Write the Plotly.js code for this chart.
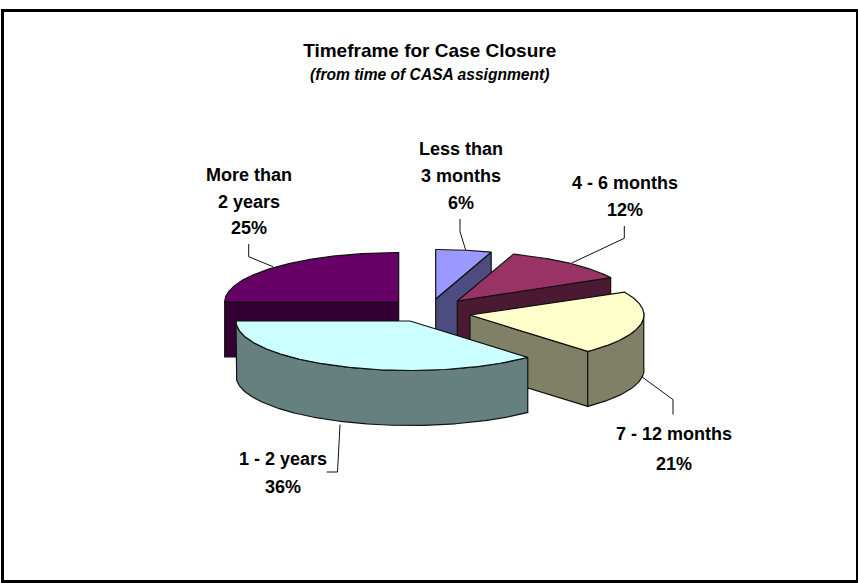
<!DOCTYPE html>
<html><head><meta charset="utf-8">
<script src="https://cdn.plot.ly/plotly-3.0.1.min.js"></script>
<style>html,body{margin:0;padding:0;background:#fff}#c{width:858px;height:583px}</style>
</head><body><div id="c"></div>
<script>
var categories = ['Less than 3 months','4 - 6 months','7 - 12 months','1 - 2 years','More than 2 years'];
var percents = [6,12,21,36,25];
var labelLines = [['Less than','3 months','6%'],['4 - 6 months','12%'],['7 - 12 months','21%'],['1 - 2 years','36%'],['More than','2 years','25%']];
var topColors = ['#9999FF','#993366','#FFFFCC','#CCFFFF','#660066'];
var wallColors = ['#4C4C80','#4C1933','#808066','#668080','#330033'];
var apexX = [435.7,457.3,470,410,398.7];
var apexY = [299,301,315,321,302];
var labelX = [461,625,674,283,249];
var labelY = [[149,176,203],[183,210],[434,464],[459,487],[175,202,228]];
var leaderX = [[460,460,465.7],[624.3,624.3,571.7],[641.7,673,673],[340,337.5,326.8],[248.7,248.7,273]];
var leaderY = [[219,231.7,250],[226,238.3,263],[376.7,399.6,414.6],[424.6,472,472],[244,256.7,266.7]];
var RX = 174, RY = 49.5, DEPTH = 55, ARC_STEPS = 4; // steps per degree
// small perspective correction of the 3D view: [pie angle, degrees subtracted]
var viewWarp = [[0,0],[20,3],[140,3],[270,0],[360,0]];

var total = percents.reduce(function(a,b){return a+b;},0);
var angles = [0];
percents.forEach(function(p,i){angles.push(angles[i]+p/total*360);});

function warp(deg){
  for(var k=1;k<viewWarp.length;k++){
    if(deg<=viewWarp[k][0]){
      var a=viewWarp[k-1], b=viewWarp[k];
      return deg-(a[1]+(b[1]-a[1])*(deg-a[0])/(b[0]-a[0]));
    }
  }
  return deg;
}
function pt(i,deg,drop){
  var r = warp(deg)*Math.PI/180;
  return [apexX[i]+RX*Math.sin(r), apexY[i]-RY*Math.cos(r)+(drop||0)];
}
function arc(i,a,b,drop){
  var out=[], n=Math.max(2,Math.ceil(Math.abs(b-a)*ARC_STEPS));
  for(var k=0;k<=n;k++) out.push(pt(i,a+(b-a)*k/n,drop));
  return out;
}
function poly(points,fill,name){
  var p=points.concat([points[0]]);
  return {x:p.map(function(q){return q[0];}),y:p.map(function(q){return q[1];}),
    mode:'lines',fill:'toself',fillcolor:fill,line:{color:'#111',width:1.2},
    name:name,hoverinfo:'name',showlegend:false};
}
var traces=[];
var order=[4,0,1,2,3];
order.forEach(function(i){
  var a=angles[i], b=angles[i+1], n=categories[i];
  if(b<180 || b>=360){
    var e = b>=360 ? a : b;
    var apex=[apexX[i],apexY[i]], end=pt(i,e);
    traces.push(poly([apex,end,[end[0],end[1]+DEPTH],[apex[0],apex[1]+DEPTH]],wallColors[i],n));
  }
  var s=Math.max(a,90), f=Math.min(b,270);
  if(f>s && b>90){
    traces.push(poly(arc(i,s,f,0).concat(arc(i,f,s,DEPTH)),wallColors[i],n));
  }
  traces.push(poly([[apexX[i],apexY[i]]].concat(arc(i,a,b,0)),topColors[i],n));
});
leaderX.forEach(function(lx,i){
  traces.push({x:lx,y:leaderY[i],mode:'lines',line:{color:'#111',width:1},hoverinfo:'skip',showlegend:false});
});
var font='"Liberation Sans", Arial, sans-serif';
var ann=[{xref:'x',yref:'y',x:429.7,y:74,text:'<b><i>(from time of CASA assignment)</i></b>',showarrow:false,
  xanchor:'center',yanchor:'middle',font:{family:font,size:15.6,color:'#000'}}];
labelLines.forEach(function(lines,i){
  lines.forEach(function(t,j){
    ann.push({xref:'x',yref:'y',x:labelX[i],y:labelY[i][j],text:'<b>'+t+'</b>',showarrow:false,
      xanchor:'center',yanchor:'middle',font:{family:font,size:18,color:'#000'}});
  });
});
var layout={width:858,height:583,margin:{l:0,r:0,t:0,b:0},paper_bgcolor:'#fff',plot_bgcolor:'#fff',
  title:{text:'<b>Timeframe for Case Closure</b>',x:429.7/858,xanchor:'center',y:1-50/583,yanchor:'middle',font:{family:font,size:19,color:'#000'}},
  xaxis:{range:[0,858],visible:false,fixedrange:true},
  yaxis:{range:[583,0],visible:false,fixedrange:true},
  annotations:ann,
  shapes:[{type:'rect',xref:'x',yref:'y',x0:2.5,y0:10.5,x1:857.5,y1:581.5,line:{color:'#000',width:3},fillcolor:'rgba(0,0,0,0)',layer:'below'}],
  showlegend:false};
Plotly.newPlot('c',traces,layout,{displayModeBar:false,staticPlot:true});
</script></body></html>
